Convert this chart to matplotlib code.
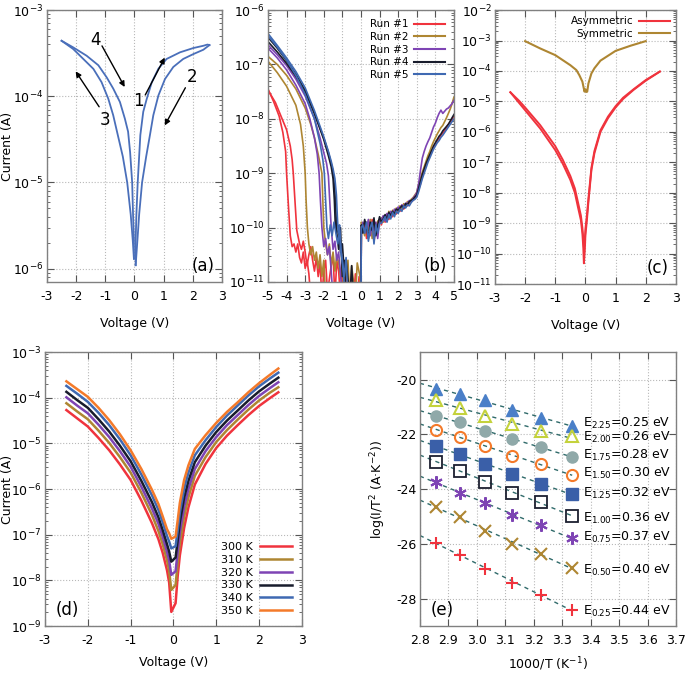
import matplotlib
matplotlib.use('Agg')
import matplotlib.pyplot as plt
import numpy as np
from matplotlib.ticker import LogLocator, NullFormatter, MultipleLocator, FormatStrFormatter

plt.rcParams['font.family'] = 'DejaVu Sans'
plt.rcParams['axes.unicode_minus'] = False
plt.rcParams['mathtext.default'] = 'regular'

# ---------------- panel (a): hysteresis loop, log10(I) ----------------
a_right_inner_v = [0.04, 0.04, 0.065, 0.11, 0.2, 0.3, 0.42, 0.59, 0.82, 1.1, 1.56, 2.02, 2.36, 2.5, 2.57]
a_right_inner_l = [-5.96, -5.67, -5.37, -5.0, -4.45, -4.18, -4.03, -3.84, -3.68, -3.567, -3.49, -3.44,
                   -3.414, -3.4, -3.406]
a_right_outer_v = [0.04, 0.1, 0.16, 0.26, 0.4, 0.53, 0.645, 0.82, 1.045, 1.33, 1.67, 2.02, 2.36, 2.57]
a_right_outer_l = [-5.96, -5.67, -5.37, -5.0, -4.7, -4.449, -4.22, -3.99, -3.80, -3.66, -3.567, -3.51,
                   -3.46, -3.406]
a_left_outer_v = [-2.5, -2.1, -1.755, -1.41, -1.13, -0.9, -0.73, -0.6, -0.4, -0.25, -0.13, -0.06, -0.02]
a_left_outer_l = [-3.356, -3.452, -3.567, -3.682, -3.836, -4.027, -4.22, -4.41, -4.7, -5.0, -5.37, -5.67,
                  -5.885]
a_left_inner_v = [-2.5, -2.1, -1.64, -1.24, -0.955, -0.73, -0.5, -0.33, -0.22, -0.15, -0.08, -0.05, -0.02,
                  -0.02]
a_left_inner_l = [-3.356, -3.433, -3.53, -3.64, -3.78, -3.91, -4.066, -4.26, -4.41, -4.65, -5.0, -5.37,
                  -5.67, -5.885]

# ---------------- panel (b): five runs, log10(I) ----------------
r1a_v = [-5, -4.6, -4.3, -4.0, -3.8, -3.7, -3.64, -3.55, -3.45, -3.3, -3.2, -3.1, -3.0, -2.9, -2.8,
         -2.7, -2.6, -2.5, -2.4, -2.3, -2.2, -2.1, -2.0, -1.9, -1.8, -1.6, -1.5, -1.4, -1.3, -1.2,
         -1.1, -1.0, -0.9, -0.8, -0.7, -0.6, -0.5, -0.4, -0.3, -0.2, -0.1, 0.0]
r1a_l = [-7.47, -7.7, -7.95, -8.2, -8.5, -8.75, -9.0, -9.5, -10.05, -10.3, -10.4, -10.25, -10.45, -10.7,
         -10.5, -10.35, -10.6, -10.8, -10.55, -10.9, -10.65, -11.3, -10.8, -10.6, -11.2, -10.7, -10.5,
         -11.3, -10.6, -10.8, -11.3, -10.7, -11.2, -10.9, -11.3, -11.3, -10.95, -11.3, -10.85, -11.3,
         -10.9, -11.3]
r1b_v = [-5, -4.7, -4.4, -4.2, -4.05, -4.0, -3.9, -3.8, -3.7, -3.6, -3.5, -3.4, -3.3, -3.2, -3.1,
         -3.0, -2.9, -2.8, -2.7]
r1b_l = [-7.45, -7.68, -7.95, -8.25, -8.6, -9.0, -9.6, -10.15, -10.35, -10.3, -10.45, -10.3, -10.55,
         -10.65, -10.45, -10.75, -10.6, -10.85, -11.3]
r2a_v = [-5, -4.5, -4, -3.5, -3, -2.7, -2.5, -2.3, -2.1, -2.05, -2.0, -1.9, -1.8, -1.7, -1.6, -1.5,
         -1.4, -1.3, -1.2, -1.1, -1.0, -0.9, -0.8, -0.7, -0.6, -0.5, -0.3, -0.2, -0.05, 0.0]
r2a_l = [-6.85, -7.0, -7.2, -7.45, -7.8, -8.1, -8.35, -8.65, -9.0, -9.5, -10.0, -10.3, -10.5, -10.3,
         -10.7, -10.45, -10.8, -10.5, -10.65, -10.9, -10.55, -11.3, -10.8, -10.6, -11.3, -10.7, -11.3,
         -10.65, -10.9, -11.3]
r2b_v = [-5, -4.5, -4, -3.5, -3.25, -3.1, -3.0, -2.95, -2.88, -2.8, -2.7, -2.6, -2.5, -2.4, -2.3,
         -2.2, -2.1, -2.0, -1.9, -1.8]
r2b_l = [-6.94, -7.15, -7.4, -7.75, -8.1, -8.5, -9.0, -9.5, -10.0, -10.3, -10.5, -10.35, -10.6, -10.45,
         -10.75, -10.5, -10.9, -10.6, -11.3, -11.3]
r3a_v = [-5, -4.5, -4, -3.5, -3, -2.5, -2.2, -2.0, -1.85, -1.75, -1.68, -1.6, -1.5, -1.4, -1.3, -1.2,
         -1.1, -1.0, -0.9]
r3a_l = [-6.64, -6.82, -7.02, -7.27, -7.58, -8.0, -8.35, -8.62, -8.82, -9.05, -9.5, -10.0, -10.4,
         -10.25, -10.6, -10.45, -10.85, -11.3, -11.3]
r3b_v = [-5, -4.5, -4, -3.5, -3, -2.75, -2.5, -2.35, -2.25, -2.18, -2.1, -2.0, -1.9, -1.8, -1.7, -1.6,
         -1.5]
r3b_l = [-6.7, -6.88, -7.1, -7.38, -7.72, -8.0, -8.35, -8.65, -9.0, -9.5, -10.0, -10.35, -10.2, -10.5,
         -10.35, -10.8, -11.3]
r4a_v = [-5, -4.5, -4, -3.5, -3, -2.5, -2, -1.75, -1.6, -1.5, -1.43, -1.38, -1.3, -1.2, -1.1, -1.05,
         -1.0, -0.9, -0.8, -0.7]
r4a_l = [-6.5, -6.7, -6.93, -7.18, -7.48, -7.9, -8.38, -8.68, -8.88, -9.1, -9.5, -9.95, -10.1, -10.4,
         -10.0, -10.5, -10.9, -10.6, -11.3, -11.3]
r4b_v = [-5, -4.5, -4, -3.5, -3, -2.5, -2, -1.75, -1.6, -1.5, -1.41, -1.35, -1.3, -1.2, -1.1, -1.0,
         -0.9, -0.8, -0.6, -0.5, -0.4]
r4b_l = [-6.58, -6.77, -6.98, -7.22, -7.5, -7.9, -8.35, -8.62, -8.82, -8.98, -9.3, -9.7, -10.05, -10.1,
         -10.45, -10.3, -10.8, -10.6, -11.3, -10.7, -11.3]
r5a_v = [-5, -4.5, -4, -3.5, -3, -2.5, -2, -1.75, -1.6, -1.5, -1.4, -1.32, -1.27, -1.22, -1.15, -1.1,
         -1.0, -0.9, -0.8, -0.7, -0.6]
r5a_l = [-6.43, -6.65, -6.88, -7.13, -7.43, -7.85, -8.33, -8.6, -8.78, -8.92, -9.1, -9.4, -9.8, -10.1,
         -9.95, -10.4, -10.6, -10.9, -10.55, -11.3, -11.3]
r5b_v = [-5, -4.5, -4, -3.5, -3, -2.5, -2.2, -2.05, -1.97, -1.9, -1.83, -1.75, -1.65, -1.55, -1.45,
         -1.35, -1.25, -1.15, -1.05, -0.95, -0.85]
r5b_l = [-6.47, -6.68, -6.92, -7.2, -7.55, -8.0, -8.45, -8.75, -9.0, -9.5, -10.0, -10.2, -9.95, -10.15,
         -9.9, -10.1, -10.3, -10.05, -10.5, -10.8, -11.3]

# positive bias: V = 0, 0.02, 0.1 ... 5.0
bpos_v = np.concatenate([[0.0, 0.02], np.round(np.arange(0.1, 5.01, 0.1), 2)])
r1p_l = [-11.3, -10.0,
         -10.05, -9.9, -10.2, -9.95, -10.1, -9.85, -10.25, -10.0, -9.9, -9.85,
         -9.95, -9.8, -9.9, -9.75, -9.85, -9.72, -9.8, -9.7, -9.75, -9.66,
         -9.7, -9.62, -9.66, -9.58, -9.6, -9.55, -9.52, -9.5, -9.45, -9.42,
         -9.3, -9.2, -9.05, -8.95, -8.85, -8.75, -8.68, -8.6, -8.52, -8.46,
         -8.4, -8.36, -8.3, -8.26, -8.22, -8.16, -8.1, -8.06, -8.0, -7.95]
r2p_l = [-11.3, -9.9,
         -10.0, -10.15, -9.9, -10.05, -9.85, -10.2, -9.95, -10.1, -9.88, -9.9,
         -9.82, -9.9, -9.78, -9.84, -9.7, -9.8, -9.68, -9.74, -9.64, -9.7,
         -9.6, -9.66, -9.56, -9.6, -9.52, -9.55, -9.48, -9.45, -9.4, -9.35,
         -9.2, -9.1, -8.98, -8.88, -8.78, -8.68, -8.6, -8.5, -8.42, -8.35,
         -8.28, -8.22, -8.16, -8.12, -8.05, -7.98, -7.9, -7.82, -7.72, -7.6]
r3p_l = [-11.3, -10.05,
         -9.9, -10.1, -10.0, -9.85, -10.15, -9.95, -10.05, -9.9, -10.2, -9.88,
         -9.85, -9.78, -9.88, -9.74, -9.82, -9.7, -9.76, -9.66, -9.7, -9.62,
         -9.66, -9.58, -9.62, -9.55, -9.56, -9.5, -9.52, -9.46, -9.42, -9.36,
         -9.2, -8.95, -8.72, -8.6, -8.5, -8.42, -8.35, -8.25, -8.15, -8.08,
         -7.98, -7.9, -7.84, -7.9, -7.86, -7.82, -7.8, -7.76, -7.72, -7.66]
r4p_l = [-11.3, -9.95,
         -10.1, -9.85, -10.0, -10.2, -9.9, -10.05, -9.82, -10.15, -9.95, -9.8,
         -9.9, -9.84, -9.76, -9.86, -9.72, -9.78, -9.7, -9.76, -9.66, -9.68,
         -9.64, -9.6, -9.64, -9.56, -9.58, -9.52, -9.5, -9.48, -9.44, -9.4,
         -9.28, -9.15, -9.02, -8.92, -8.82, -8.74, -8.66, -8.58, -8.5, -8.44,
         -8.38, -8.32, -8.28, -8.22, -8.18, -8.14, -8.1, -8.04, -7.98, -7.92]
r5p_l = [-11.3, -10.0,
         -9.95, -10.1, -9.9, -10.25, -10.0, -9.9, -10.3, -9.95, -10.1, -9.92,
         -9.92, -9.86, -9.8, -9.9, -9.76, -9.84, -9.72, -9.8, -9.7, -9.74,
         -9.66, -9.7, -9.6, -9.64, -9.58, -9.6, -9.54, -9.5, -9.48, -9.44,
         -9.34, -9.22, -9.1, -9.0, -8.9, -8.8, -8.72, -8.64, -8.56, -8.5,
         -8.44, -8.4, -8.34, -8.3, -8.25, -8.2, -8.15, -8.1, -8.05, -8.0]
run_labels = ['Run #1', 'Run #2', 'Run #3', 'Run #4', 'Run #5']
run_colors = ['#f0333d', '#ae8632', '#7e44b4', '#181c2c', '#3f69b2']

# ---------------- panel (c): asymmetric vs symmetric ----------------
c_sym_v = [-2, -1.5, -1, -0.5, -0.3, -0.2, -0.1, -0.06, -0.03, 0.0, 0.03, 0.06, 0.1, 0.2, 0.3, 0.5, 1, 1.5, 2]
c_sym_l = [-3.02, -3.26, -3.48, -3.81, -3.97, -4.14, -4.35, -4.54, -4.68, -4.6, -4.69, -4.68, -4.41,
           -4.08, -3.91, -3.66, -3.34, -3.17, -3.02]
c_asym_v = [-2.49, -2.2, -2.0, -1.5, -1.0, -0.75, -0.5, -0.35, -0.25, -0.15, -0.1, -0.07, -0.05, -0.02,
            0.0, 0.05, 0.1, 0.2, 0.3, 0.5, 0.75, 1.0, 1.25, 1.6, 2.0, 2.47]
c_asym1_l = [-4.7, -5.05, -5.29, -5.89, -6.6, -7.05, -7.58, -8.0, -8.46, -8.9, -9.34, -9.8, -10.32, -9.9,
             -9.4, -8.9, -8.3, -7.25, -6.7, -6.0, -5.55, -5.2, -4.92, -4.62, -4.32, -4.02]
c_asym2_l = [-4.7, -4.98, -5.2, -5.78, -6.47, -6.92, -7.45, -7.86, -8.3, -8.75, -9.15, -9.5, -9.8, -9.6,
             -9.2, -8.75, -8.2, -7.18, -6.63, -5.95, -5.5, -5.16, -4.88, -4.6, -4.3, -4.02]

# ---------------- panel (d): temperature series, log10(I) ----------------
d_v = [-2.5, -2.25, -2, -1.75, -1.5, -1.25, -1, -0.75, -0.5, -0.35, -0.25, -0.15, -0.1, -0.05,
       0.05, 0.1, 0.15, 0.25, 0.35, 0.5, 0.75, 1, 1.25, 1.5, 1.75, 2, 2.25, 2.45]
d_300 = [-4.27, -4.45, -4.63, -4.88, -5.15, -5.46, -5.8, -6.25, -6.75, -7.1, -7.4, -7.78, -8.05, -8.69,
         -8.5, -7.9, -7.45, -6.85, -6.4, -5.9, -5.45, -5.1, -4.83, -4.6, -4.38, -4.18, -4.01, -3.88]
d_310 = [-4.12, -4.30, -4.47, -4.72, -4.99, -5.30, -5.64, -6.08, -6.57, -6.92, -7.21, -7.56, -7.79, -8.21,
         -8.1, -7.61, -7.17, -6.60, -6.18, -5.71, -5.30, -4.97, -4.71, -4.48, -4.26, -4.06, -3.89, -3.77]
d_320 = [-3.99, -4.17, -4.34, -4.59, -4.86, -5.17, -5.51, -5.95, -6.43, -6.76, -7.05, -7.38, -7.57, -7.88,
         -7.8, -7.36, -6.94, -6.39, -6.0, -5.56, -5.17, -4.86, -4.60, -4.38, -4.16, -3.96, -3.79, -3.66]
d_330 = [-3.87, -4.05, -4.22, -4.47, -4.74, -5.05, -5.39, -5.82, -6.29, -6.62, -6.9, -7.21, -7.37, -7.59,
         -7.5, -7.12, -6.72, -6.19, -5.82, -5.41, -5.05, -4.75, -4.50, -4.28, -4.06, -3.86, -3.69, -3.56]
d_340 = [-3.74, -3.91, -4.09, -4.33, -4.6, -4.91, -5.26, -5.68, -6.14, -6.46, -6.73, -7.03, -7.15, -7.3,
         -7.25, -6.9, -6.51, -5.99, -5.64, -5.26, -4.93, -4.64, -4.39, -4.17, -3.95, -3.75, -3.58, -3.45]
d_350 = [-3.64, -3.81, -3.98, -4.22, -4.49, -4.8, -5.15, -5.56, -6.02, -6.33, -6.6, -6.88, -6.97, -7.09,
         -7.04, -6.68, -6.3, -5.8, -5.48, -5.12, -4.82, -4.55, -4.31, -4.1, -3.88, -3.68, -3.5, -3.36]
d_labels = ['300 K', '310 K', '320 K', '330 K', '340 K', '350 K']
d_colors = ['#f0333d', '#ae8632', '#7e44b4', '#181c2c', '#3f69b2', '#f47a2a']

# ---------------- panel (e): Arrhenius plot ----------------
e_x = [1000 / 350, 1000 / 340, 1000 / 330, 1000 / 320, 1000 / 310, 1000 / 300]
e_225 = [-20.34, -20.54, -20.76, -21.10, -21.39, -21.71]
e_200 = [-20.76, -21.03, -21.34, -21.63, -21.89, -22.07]
e_175 = [-21.33, -21.55, -21.88, -22.18, -22.48, -22.82]
e_150 = [-21.83, -22.09, -22.43, -22.80, -23.09, -23.49]
e_125 = [-22.43, -22.72, -23.10, -23.46, -23.81, -24.18]
e_100 = [-23.00, -23.33, -23.73, -24.13, -24.46, -25.00]
e_075 = [-23.75, -24.13, -24.52, -24.96, -25.33, -25.79]
e_050 = [-24.66, -25.02, -25.52, -25.99, -26.37, -26.88]
e_025 = [-25.97, -26.39, -26.91, -27.42, -27.86, -28.41]
e_labels = [r'E$_{2.25}$=0.25 eV', r'E$_{2.00}$=0.26 eV', r'E$_{1.75}$=0.28 eV', r'E$_{1.50}$=0.30 eV',
            r'E$_{1.25}$=0.32 eV', r'E$_{1.00}$=0.36 eV', r'E$_{0.75}$=0.37 eV', r'E$_{0.50}$=0.40 eV',
            r'E$_{0.25}$=0.44 eV']
e_label_y = [-21.62, -22.12, -22.78, -23.42, -24.17, -25.08, -25.77, -26.96, -28.47]

TICK_FS = 9
LABEL_FS = 9


def style_axes(ax, logy=True):
    ax.tick_params(which='both', direction='in', top=True, right=True, labelsize=TICK_FS,
                   color='#555555')
    ax.tick_params(axis='x', pad=6)
    ax.tick_params(axis='y', pad=2.5)
    ax.tick_params(which='major', length=5, width=0.8)
    ax.tick_params(which='minor', length=2.5, width=0.6)
    for s in ax.spines.values():
        s.set_color('#808080')
        s.set_linewidth(1.0)
    ax.grid(True, which='major', color='#b8b8b8', ls=':', lw=0.8)
    if logy:
        ax.set_yscale('log')
        ax.yaxis.set_major_locator(LogLocator(base=10, numticks=20))
        ax.yaxis.set_minor_locator(LogLocator(base=10, subs=np.arange(2, 10), numticks=20))
        ax.yaxis.set_minor_formatter(NullFormatter())


def plot_log(ax, v, l, color, lw=1.2, label=None):
    n = min(len(v), len(l))
    ax.plot(np.array(v[:n]), 10.0 ** np.array(l[:n]), color=color, lw=lw, label=label)


legend_kw = dict(frameon=False, markerfirst=False, handlelength=2.9, labelspacing=0.25,
                 handletextpad=0.6)

fig = plt.figure(figsize=(6.85, 6.73), dpi=100)

# ----- (a)
axa = fig.add_axes([0.0686, 0.581, 0.2555, 0.404])
style_axes(axa)
blue_a = '#4a6fba'
plot_log(axa, a_right_outer_v, a_right_outer_l, blue_a, lw=1.3)
plot_log(axa, a_right_inner_v, a_right_inner_l, blue_a, lw=1.3)
plot_log(axa, a_left_outer_v, a_left_outer_l, blue_a, lw=1.3)
plot_log(axa, a_left_inner_v, a_left_inner_l, blue_a, lw=1.3)
axa.set_xlim(-3, 3)
axa.set_ylim(7e-7, 1e-3)
axa.xaxis.set_major_locator(MultipleLocator(1))
axa.set_xlabel('Voltage (V)', fontsize=LABEL_FS, labelpad=10)
axa.set_ylabel('Current (A)', fontsize=LABEL_FS)
axa.yaxis.set_label_coords(-0.19, 0.5)
arrow_kw = dict(arrowstyle='-|>', color='black', lw=1.0, mutation_scale=8)
axa.annotate('', xy=(-0.29, 1.2e-4), xytext=(-1.16, 4.1e-4), arrowprops=arrow_kw)
axa.annotate('', xy=(1.08, 3.0e-4), xytext=(0.325, 9.7e-5), arrowprops=arrow_kw)
axa.annotate('', xy=(0.99, 4.3e-5), xytext=(1.79, 1.34e-4), arrowprops=arrow_kw)
axa.annotate('', xy=(-2.07, 2.07e-4), xytext=(-1.16, 7.1e-5), arrowprops=arrow_kw)
axa.text(-1.35, 4.5e-4, '4', fontsize=12, ha='center', va='center')
axa.text(0.13, 8.8e-5, '1', fontsize=12, ha='center', va='center')
axa.text(1.96, 1.67e-4, '2', fontsize=12, ha='center', va='center')
axa.text(-1.01, 5.3e-5, '3', fontsize=12, ha='center', va='center')
axa.text(0.96, 0.025, '(a)', transform=axa.transAxes, fontsize=12, ha='right', va='bottom')

# ----- (b)
axb = fig.add_axes([0.3912, 0.581, 0.2715, 0.404])
style_axes(axb)
left_sets = [(r1a_v, r1a_l, r1b_v, r1b_l), (r2a_v, r2a_l, r2b_v, r2b_l), (r3a_v, r3a_l, r3b_v, r3b_l),
             (r4a_v, r4a_l, r4b_v, r4b_l), (r5a_v, r5a_l, r5b_v, r5b_l)]
pos_sets = [r1p_l, r2p_l, r3p_l, r4p_l, r5p_l]
for (va, la, vb, lb), lp, col, lab in zip(left_sets, pos_sets, run_colors, run_labels):
    plot_log(axb, va, la, col)
    plot_log(axb, vb, lb, col)
    plot_log(axb, list(bpos_v), lp, col, label=lab)
axb.set_xlim(-5, 5)
axb.set_ylim(1e-11, 1e-6)
axb.xaxis.set_major_locator(MultipleLocator(1))
axb.set_xlabel('Voltage (V)', fontsize=LABEL_FS, labelpad=10)
leg = axb.legend(loc='upper right', fontsize=7.5, borderaxespad=0.5, **legend_kw)
for h in leg.get_lines():
    h.set_linewidth(1.5)
axb.text(0.96, 0.025, '(b)', transform=axb.transAxes, fontsize=12, ha='right', va='bottom')

# ----- (c)
axc = fig.add_axes([0.7226, 0.578, 0.264, 0.407])
style_axes(axc)
plot_log(axc, c_asym_v, c_asym1_l, '#f0333d', lw=1.4, label='Asymmetric')
plot_log(axc, c_asym_v, c_asym2_l, '#f0333d', lw=1.4)
plot_log(axc, c_sym_v, c_sym_l, '#ae8632', lw=1.5, label='Symmetric')
axc.set_xlim(-3, 3)
axc.set_ylim(1e-11, 1e-2)
axc.xaxis.set_major_locator(MultipleLocator(1))
axc.set_xlabel('Voltage (V)', fontsize=LABEL_FS, labelpad=10)
leg = axc.legend(loc='upper right', fontsize=7.5, borderaxespad=0.2, **legend_kw)
for h in leg.get_lines():
    h.set_linewidth(1.5)
axc.text(0.96, 0.025, '(c)', transform=axc.transAxes, fontsize=12, ha='right', va='bottom')

# ----- (d)
axd = fig.add_axes([0.0657, 0.0698, 0.375, 0.407])
style_axes(axd)
for vals, col, lab in zip([d_300, d_310, d_320, d_330, d_340, d_350], d_colors, d_labels):
    plot_log(axd, d_v, vals, col, lw=1.8, label=lab)
axd.set_xlim(-3, 3)
axd.set_ylim(1e-9, 1e-3)
axd.xaxis.set_major_locator(MultipleLocator(1))
axd.set_xlabel('Voltage (V)', fontsize=LABEL_FS, labelpad=6)
axd.set_ylabel('Current (A)', fontsize=LABEL_FS)
axd.yaxis.set_label_coords(-0.122, 0.5)
axd.legend(loc='lower right', fontsize=8, borderaxespad=0.5, **legend_kw)
axd.text(0.04, 0.025, '(d)', transform=axd.transAxes, fontsize=12, ha='left', va='bottom')

# ----- (e)
axe = fig.add_axes([0.613, 0.0698, 0.374, 0.407])
style_axes(axe, logy=False)
e_series = [e_225, e_200, e_175, e_150, e_125, e_100, e_075, e_050, e_025]
e_styles = [dict(marker='^', color='#4a7fc8', mfc='#4a7fc8', ms=8),
            dict(marker='^', color='#c4d23c', mfc='none', ms=8, mew=1.5),
            dict(marker='o', color='#8fa9a9', mfc='#8fa9a9', ms=8),
            dict(marker='o', color='#f47a2a', mfc='none', ms=8, mew=1.5),
            dict(marker='s', color='#3a5fa8', mfc='#3a5fa8', ms=8),
            dict(marker='s', color='#1c2030', mfc='none', ms=8, mew=1.3),
            dict(marker=(6, 2, 0), color='#7e44b4', ms=9, mew=1.5),
            dict(marker='x', color='#ae8632', ms=8, mew=1.5),
            dict(marker='+', color='#f0333d', ms=9, mew=1.5)]
fit_x = np.array([2.8, 3.335])
for ys, st, lab, ly in zip(e_series, e_styles, e_labels, e_label_y):
    k, b = np.polyfit(e_x, ys, 1)
    axe.plot(fit_x, k * fit_x + b, color='#2f6a6a', lw=1.0, ls=(0, (3, 3)))
    axe.plot(e_x, ys, ls='none', **st)
    axe.text(3.372, ly, lab, fontsize=9, ha='left', va='center')
axe.set_xlim(2.8, 3.7)
axe.set_ylim(-29, -19)
axe.xaxis.set_major_locator(MultipleLocator(0.1))
axe.xaxis.set_major_formatter(FormatStrFormatter('%.1f'))
axe.yaxis.set_major_locator(MultipleLocator(2))
axe.set_xlabel('1000/T (K$^{-1}$)', fontsize=LABEL_FS, labelpad=6)
axe.set_ylabel('log(I/T$^2$ (A·K$^{-2}$))', fontsize=LABEL_FS, labelpad=6)
axe.text(0.04, 0.025, '(e)', transform=axe.transAxes, fontsize=12, ha='left', va='bottom')

fig.savefig('out.png', dpi=100)
